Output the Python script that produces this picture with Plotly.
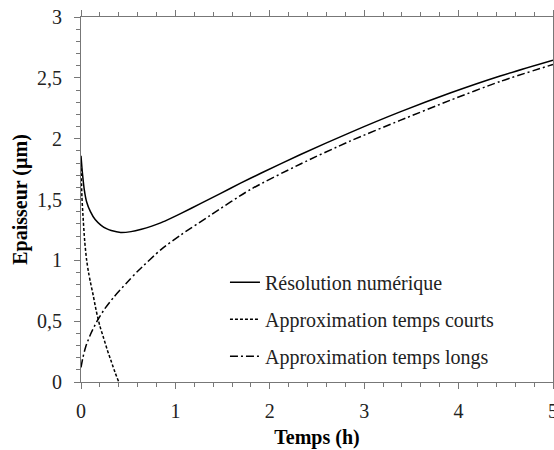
import plotly.graph_objects as go

# Résolution numérique
t_num = [0, 0.01, 0.02, 0.035, 0.06, 0.1, 0.15, 0.21, 0.27, 0.32, 0.42, 0.53, 0.64, 0.75,
         0.85, 0.95, 1.06, 1.27, 1.48, 1.69, 1.91, 2.32, 2.85, 3.38, 3.91, 4.44, 5.0]
y_num = [1.86, 1.76, 1.68, 1.58, 1.48, 1.40, 1.335, 1.29, 1.26, 1.245, 1.229, 1.236, 1.255, 1.281,
         1.310, 1.345, 1.386, 1.468, 1.551, 1.634, 1.718, 1.868, 2.05, 2.22, 2.375, 2.515, 2.645]

# Approximation temps courts
t_short = [0, 0.01, 0.02, 0.04, 0.06, 0.08, 0.1, 0.13, 0.16, 0.2, 0.24, 0.28, 0.32, 0.36, 0.4]
y_short = [1.80, 1.52, 1.38, 1.15, 1.00, 0.90, 0.82, 0.71, 0.59, 0.46, 0.36, 0.26, 0.17, 0.08, 0.0]

# Approximation temps longs
t_long = [0, 0.02, 0.05, 0.1, 0.17, 0.25, 0.35, 0.49, 0.6, 0.85, 1.06, 1.37, 1.79,
          2.32, 2.85, 3.38, 3.91, 4.44, 5.0]
y_long = [0.12, 0.20, 0.29, 0.39, 0.50, 0.60, 0.70, 0.82, 0.91, 1.09, 1.21, 1.37, 1.58,
          1.79, 1.98, 2.15, 2.315, 2.47, 2.61]

FONT = "Liberation Serif"
AX = "#777777"

fig = go.Figure()
fig.add_trace(go.Scatter(x=t_num, y=y_num, mode="lines", name="Résolution numérique",
                         line=dict(color="black", width=1.5, shape="spline", smoothing=0.7), legendgroup="a"))
fig.add_trace(go.Scatter(x=t_short, y=y_short, mode="lines", name="Approximation temps courts",
                         line=dict(color="black", width=1.5, dash="3px,2px", shape="spline", smoothing=0.7), legendgroup="b"))
fig.add_trace(go.Scatter(x=t_long, y=y_long, mode="lines", name="Approximation temps longs",
                         line=dict(color="black", width=1.5, dash="8px,3px,2px,3px", shape="spline", smoothing=0.7), legendgroup="c"))
# invisible trace to activate the mirrored (top/right) tick axes
fig.add_trace(go.Scatter(x=[None], y=[None], xaxis="x2", yaxis="y2", showlegend=False, hoverinfo="skip"))

axis_common = dict(
    showline=True, linecolor=AX, linewidth=1,
    ticks="outside", ticklen=6, tickcolor=AX, tickwidth=1,
    showgrid=False, zeroline=False, automargin=False,
    tickfont=dict(family=FONT, size=20, color="#222"),
)
xminor = dict(dtick=0.2, ticks="outside", ticklen=4, tickcolor=AX)
yminor = dict(dtick=0.1, ticks="outside", ticklen=4, tickcolor=AX)

fig.update_layout(
    width=554, height=450,
    margin=dict(l=81, r=1, t=17, b=68, autoexpand=False),
    plot_bgcolor="white", paper_bgcolor="white",
    separators=", ",
    font=dict(family=FONT, size=20, color="#222"),
    xaxis=dict(range=[0, 5], dtick=1, tick0=0, minor=xminor, ticklabeloverflow="allow",
               title=dict(text="<b>Temps (h)</b>", font=dict(family=FONT, size=20, color="black"), standoff=8),
               ticklabelstandoff=5, **axis_common),
    yaxis=dict(range=[0, 3], dtick=0.5, tick0=0, minor=yminor, ticklabeloverflow="allow",
               title=dict(text="<b>Epaisseur (µm)</b>", font=dict(family=FONT, size=20, color="black"), standoff=4),
               ticklabelstandoff=8, **axis_common),
    xaxis2=dict(range=[0, 5], dtick=1, tick0=0, minor=xminor, overlaying="x", side="top",
                anchor="y2", showticklabels=False, **axis_common),
    yaxis2=dict(range=[0, 3], dtick=0.5, tick0=0, minor=yminor, overlaying="y", side="right",
                anchor="x2", showticklabels=False, **axis_common),
    legend=dict(x=0.305, y=0.327, xanchor="left", yanchor="top",
                bgcolor="rgba(0,0,0,0)", font=dict(family=FONT, size=20, color="#222"),
                tracegroupgap=8, itemwidth=30),
    showlegend=True,
)

fig.write_html("out.html", config={"displayModeBar": False},
               post_script="document.body.style.margin='0';document.body.style.overflow='hidden';")
